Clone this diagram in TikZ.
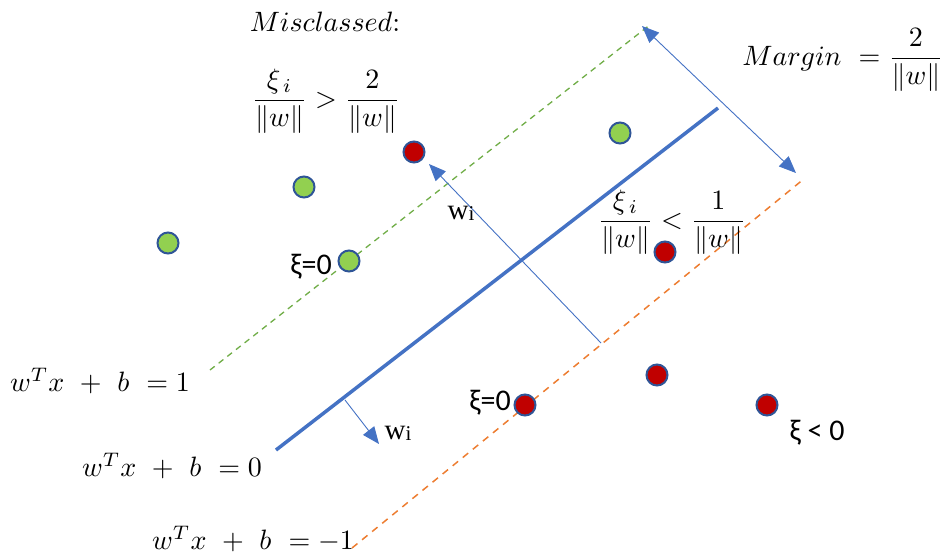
\documentclass[tikz,border=0pt]{standalone}
\usepackage{amsmath}
\usepackage{fontspec}
\usetikzlibrary{arrows.meta}
\newfontfamily\calib{Carlito}
\newfontfamily\timesf{Liberation Serif}
\definecolor{lgreen}{HTML}{70AD47}
\definecolor{lorange}{HTML}{ED7D31}
\definecolor{lblue}{HTML}{4472C4}
\definecolor{dotgreen}{HTML}{92D050}
\definecolor{dotred}{HTML}{C00000}
\definecolor{dotrim}{HTML}{2F5597}
\tikzset{
  gdot/.style={circle,draw=dotrim,line width=2pt,fill=dotgreen,minimum size=21pt,inner sep=0pt},
  rdot/.style={circle,draw=dotrim,line width=2pt,fill=dotred,minimum size=21pt,inner sep=0pt},
  mlabel/.style={inner sep=0pt,font=\normalsize,scale=2.8},
  slabel/.style={inner sep=0pt,font=\calib\fontsize{30}{33}\selectfont},
  wlabel/.style={inner sep=0pt,font=\timesf\fontsize{29}{32}\selectfont},
  thinarrow/.style={lblue,line width=0.9pt,-{Triangle[length=17pt,width=14pt]}},
  gline/.style={lgreen,line width=1.3pt,dash pattern=on 6pt off 5pt},
  oline/.style={lorange,line width=1.5pt,dash pattern=on 7pt off 6pt},
  hline/.style={lblue,line width=3.5pt}
}
\begin{document}
\begin{tikzpicture}[x=1pt,y=-1pt]
\useasboundingbox (0,0) rectangle (945,555);
% hyperplanes
\coordinate (g1) at (210,370);
\coordinate (g2) at (651,24);
\coordinate (h1) at (276,450);
\coordinate (h2) at (718,108);
\coordinate (o1) at (352,548);
\coordinate (o2) at (805,178);
\draw[gline] (g1) -- (g2);
\draw[hline] (h1) -- (h2);
\draw[oline] (o1) -- (o2);
% margin arrow
\coordinate (m1) at (642,26);
\coordinate (m2) at (796,173);
\draw[lblue,line width=0.9pt,{Triangle[length=17pt,width=14pt]}-{Triangle[length=17pt,width=14pt]}] (m1) -- (m2);
% normal arrows
\coordinate (n1) at (601,343);
\coordinate (n2) at (429,164);
\draw[thinarrow] (n1) -- (n2);
\coordinate (s1) at (345,400);
\coordinate (s2) at (379,444);
\draw[thinarrow] (s1) -- (s2);
% dots
\node[gdot] (p1) at (620,133) {};
\node[gdot] (p2) at (304,187) {};
\node[gdot] (p3) at (168,243) {};
\node[gdot] (p4) at (349,261) {};
\node[rdot] (q1) at (414,152) {};
\node[rdot] (q2) at (665,252) {};
\node[rdot] (q3) at (657,375) {};
\node[rdot] (q4) at (525,405) {};
\node[rdot] (q5) at (767,405) {};
% labels
\node[mlabel] (tmis) at (325,22) {$Misclassed$:};
\node[mlabel] (tf1) at (326,101) {$\dfrac{\xi_{\,i}}{\|w\|} > \dfrac{2}{\|w\|}$};
\node[mlabel] (tmar) at (843,60) {$Margin\ = \dfrac{2}{\|w\|}$};
\node[mlabel] (tf2) at (672,222) {$\dfrac{\xi_{\,i}}{\|w\|} < \dfrac{1}{\|w\|}$};
\node[slabel] (tz1) at (311,267) {ξ=0};
\node[slabel] (tz2) at (490,403) {ξ=0};
\node[slabel] (tz3) at (817,433) {ξ < 0};
\node[wlabel] (tw1) at (461,213) {w\raisebox{-1pt}{\fontsize{21}{23}\selectfont i}};
\node[wlabel] (tw2) at (398,433) {w\raisebox{-1pt}{\fontsize{21}{23}\selectfont i}};
\node[mlabel] (e1) at (100,381) {$w^Tx\ +\ b\ =1$};
\node[mlabel] (e0) at (172,466) {$w^Tx\ +\ b\ =0$};
\node[mlabel] (em) at (253,539) {$w^Tx\ +\ b\ =-1$};
\end{tikzpicture}
\end{document}
